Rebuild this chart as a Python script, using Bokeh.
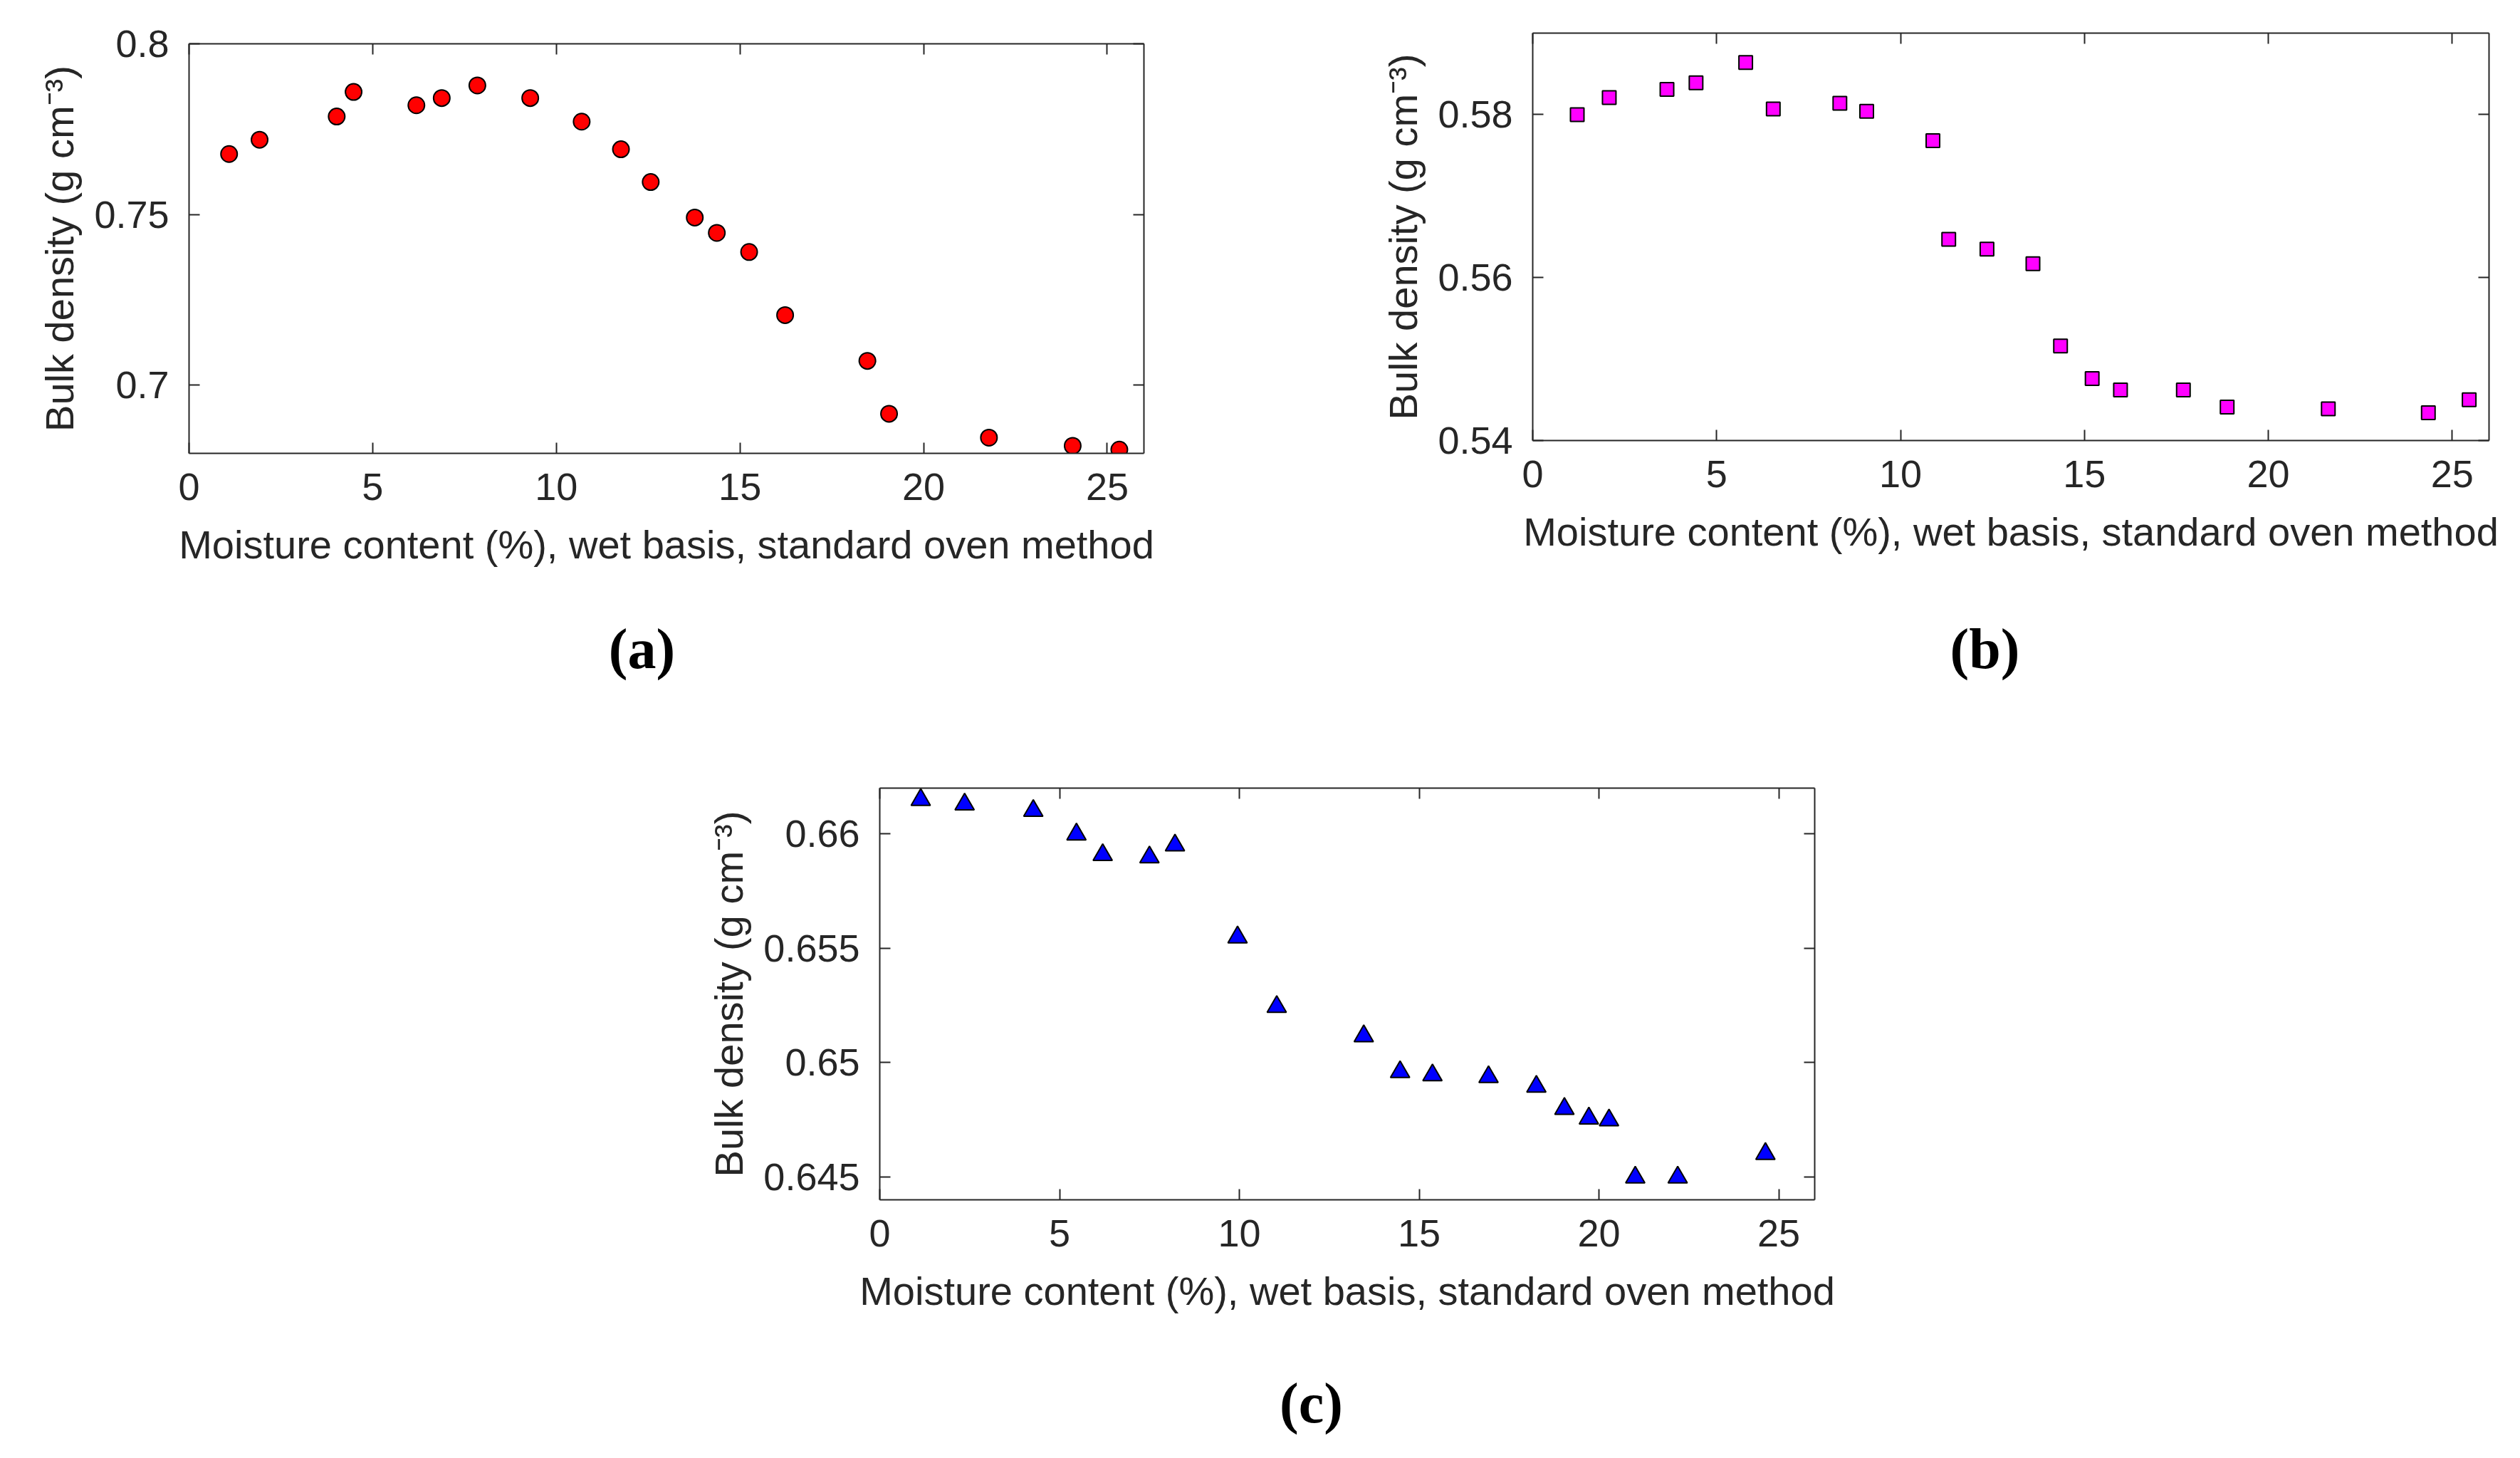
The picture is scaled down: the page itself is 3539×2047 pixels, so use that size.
from bokeh.plotting import figure
from bokeh.models import LinearAxis, FixedTicker, Range1d, Label, Spacer
from bokeh.layouts import row, column
from bokeh.embed import file_html
from bokeh.resources import INLINE

# ---------------- data ----------------
# (a) red circles
xa = [1.09, 1.92, 4.02, 4.48, 6.19, 6.88, 7.85, 9.29, 10.69, 11.76,
      12.57, 13.77, 14.37, 15.25, 16.23, 18.47, 19.06, 21.78, 24.06, 25.33]
ya = [0.7677, 0.7719, 0.7787, 0.7859, 0.7820, 0.7841, 0.7878, 0.7841, 0.7772, 0.7691,
      0.7595, 0.7491, 0.7446, 0.7390, 0.7205, 0.7071, 0.6916, 0.6846, 0.6822, 0.6811]

# (b) magenta squares
xb = [1.21, 2.08, 3.65, 4.44, 5.79, 6.54, 8.35, 9.08, 10.88, 11.31,
      12.35, 13.60, 14.35, 15.21, 15.98, 17.69, 18.88, 21.63, 24.35, 25.46]
yb = [0.5800, 0.5821, 0.5831, 0.5839, 0.5864, 0.5807, 0.5814, 0.5804, 0.5768, 0.5647,
      0.5635, 0.5617, 0.5516, 0.5476, 0.5462, 0.5462, 0.5441, 0.5439, 0.5434, 0.5450]

# (c) blue triangles
xc = [1.14, 2.36, 4.27, 5.47, 6.20, 7.50, 8.21, 9.95, 11.04, 13.46,
      14.47, 15.37, 16.93, 18.26, 19.04, 19.72, 20.28, 21.01, 22.19, 24.63]
yc = [0.66149, 0.66129, 0.66101, 0.65998, 0.65908, 0.65898, 0.65950, 0.65548, 0.65244, 0.65116,
      0.64959, 0.64945, 0.64937, 0.64895, 0.64798, 0.64756, 0.64748, 0.64498, 0.64498, 0.64601]

x_range = (0, 26)
x_ticks = [0, 5, 10, 15, 20, 25]
x_tick_labels = ["0", "5", "10", "15", "20", "25"]

ya_range = (0.68, 0.80)
ya_ticks = [0.7, 0.75, 0.8]
ya_tick_labels = ["0.7", "0.75", "0.8"]

yb_range = (0.54, 0.59)
yb_ticks = [0.54, 0.56, 0.58]
yb_tick_labels = ["0.54", "0.56", "0.58"]

yc_range = (0.644, 0.662)
yc_ticks = [0.645, 0.65, 0.655, 0.66]
yc_tick_labels = ["0.645", "0.65", "0.655", "0.66"]

x_title = "Moisture content (%), wet basis, standard oven method"
y_title = "Bulk density (g cm\u207b\u00b3)"
panel_labels = ["(a)", "(b)", "(c)"]

# ---------------- style ----------------
FONT = "Liberation Sans"
SERIF = "Liberation Serif"
AXC = "#262626"
FS = "54px"
LFS = "56px"


def style_axis(ax, ticks, labels, show):
    ax.ticker = FixedTicker(ticks=ticks)
    ax.major_tick_in = 15
    ax.major_tick_out = 0
    ax.minor_tick_in = 0
    ax.minor_tick_out = 0
    ax.axis_line_width = 2
    ax.axis_line_color = AXC
    ax.major_tick_line_width = 2
    ax.major_tick_line_color = AXC
    ax.major_label_text_font = FONT
    ax.major_label_text_color = AXC
    if show:
        ax.major_label_overrides = {t: l for t, l in zip(ticks, labels)}
        ax.major_label_text_font_size = FS
        ax.major_label_standoff = 28
    else:
        ax.major_label_overrides = {t: "" for t in ticks}
        ax.major_label_text_font_size = "0px"
        ax.major_label_standoff = 0


def make_panel(width, height, bl, br, bt, bb, yr, yticks, ylabels,
               xs, ys, marker, size, color):
    p = figure(width=width, height=height,
               x_range=Range1d(*x_range), y_range=Range1d(*yr),
               output_backend="svg", toolbar_location=None,
               min_border_left=bl, min_border_right=br,
               min_border_top=bt, min_border_bottom=bb)
    p.outline_line_color = None
    p.xgrid.grid_line_color = None
    p.ygrid.grid_line_color = None
    p.background_fill_color = "white"
    p.border_fill_color = "white"

    xax = p.below[0]
    yax = p.left[0]
    style_axis(xax, x_ticks, x_tick_labels, True)
    style_axis(yax, yticks, ylabels, True)
    top = LinearAxis()
    right = LinearAxis()
    style_axis(top, x_ticks, x_tick_labels, False)
    style_axis(right, yticks, ylabels, False)
    p.add_layout(top, "above")
    p.add_layout(right, "right")

    for ax, txt, st in ((xax, x_title, 28), (yax, y_title, 14)):
        ax.axis_label = txt
        ax.axis_label_text_font = FONT
        ax.axis_label_text_font_size = LFS
        ax.axis_label_text_font_style = "normal"
        ax.axis_label_text_color = AXC
        ax.axis_label_standoff = st

    p.scatter(xs, ys, marker=marker, size=size, fill_color=color,
              line_color="black", line_width=2)
    return p


def make_label(width, height, text, cx, by):
    # the strip's frame is aligned with the plot frame above it,
    # so cx is measured from that frame's left edge
    f = figure(width=width, height=height, x_axis_type=None, y_axis_type=None,
               output_backend="svg", toolbar_location=None,
               min_border=0, min_border_left=0, min_border_right=0,
               min_border_top=0, min_border_bottom=0)
    f.outline_line_color = None
    f.xgrid.grid_line_color = None
    f.ygrid.grid_line_color = None
    f.add_layout(Label(x=cx, y=by, x_units="screen", y_units="screen",
                       text=text, text_font=SERIF, text_font_style="bold",
                       text_font_size="80px", text_align="center",
                       text_baseline="alphabetic", text_color="black"))
    return f


# row 1 : plots 840 tall + label strip 160
pa = make_panel(1880, 840, 265, 1880 - 1606, 61, 840 - 636,
                ya_range, ya_ticks, ya_tick_labels,
                xa, ya, "circle", 23, "#FF0000")
pb = make_panel(1659, 840, 272, 44, 46, 840 - 618,
                yb_range, yb_ticks, yb_tick_labels,
                xb, yb, "square", 19, "#FF00FF")
la = make_label(1880, 160, panel_labels[0], 636, 90)
lb = make_label(1659, 160, panel_labels[1], 635, 90)

# row 2 : plot 890 tall + label strip 157
pc = make_panel(1738, 890, 275, 1738 - 275 - 1313, 106, 890 - 684,
                yc_range, yc_ticks, yc_tick_labels,
                xc, yc, "triangle", 27, "#0000FF")
lc = make_label(1738, 157, panel_labels[2], 606, 78)

layout = column(row(column(pa, la), column(pb, lb)),
                row(Spacer(width=960, height=1047), column(pc, lc)))

open("out.html", "w").write(file_html(layout, INLINE))
